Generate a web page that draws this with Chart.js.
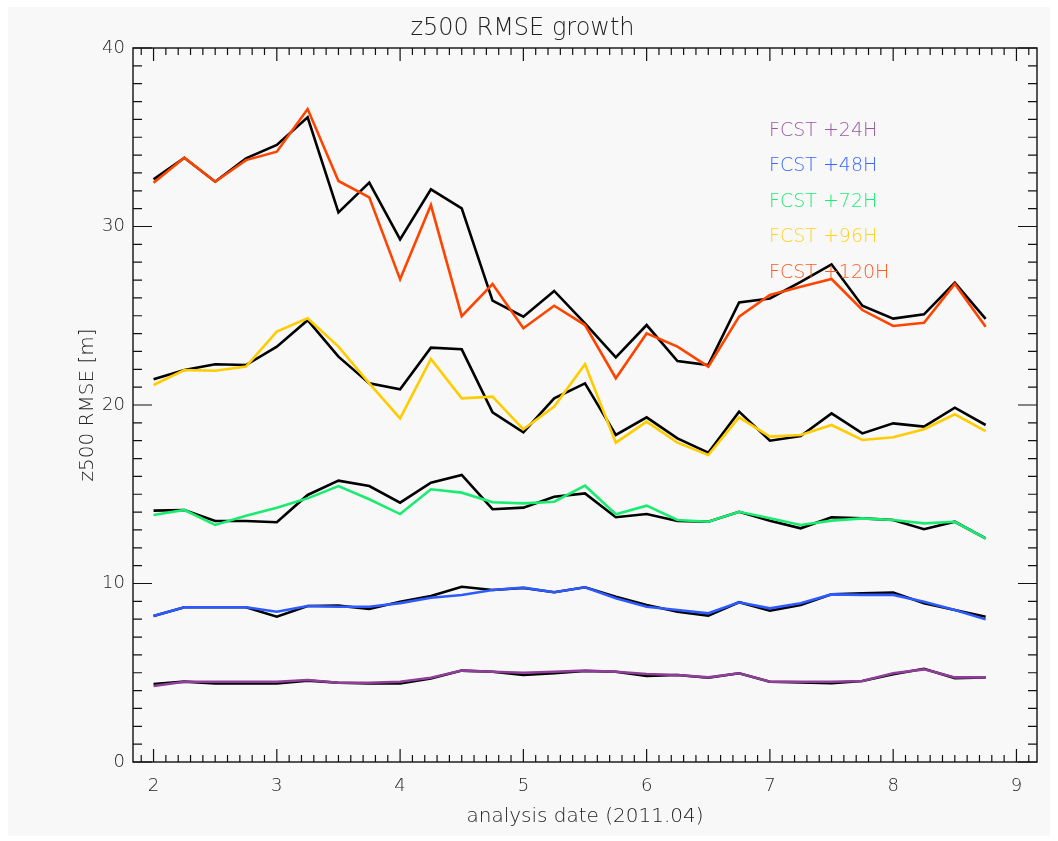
<!DOCTYPE html>
<html>
<head>
<meta charset="utf-8">
<script src="https://cdn.jsdelivr.net/npm/chart.js@4/dist/chart.umd.min.js"></script>
<style>
  html, body { margin: 0; padding: 0; background: #ffffff; }
  #wrap { position: absolute; left: 8px; top: 7px; width: 1042px; height: 829px; }
</style>
</head>
<body>
<div id="wrap"><canvas id="c"></canvas></div>
<script>
const dates = [2.00,2.25,2.50,2.75,3.00,3.25,3.50,3.75,4.00,4.25,4.50,4.75,5.00,5.25,5.50,5.75,6.00,6.25,6.50,6.75,7.00,7.25,7.50,7.75,8.00,8.25,8.50,8.75];

const fcst24 = [4.26,4.50,4.50,4.50,4.50,4.59,4.44,4.44,4.50,4.72,5.12,5.06,5.00,5.06,5.12,5.06,4.93,4.87,4.74,4.97,4.50,4.50,4.50,4.54,4.97,5.19,4.74,4.74];
const ctrl24 = [4.37,4.50,4.40,4.40,4.40,4.56,4.44,4.40,4.40,4.68,5.12,5.06,4.87,4.97,5.10,5.06,4.82,4.87,4.72,4.97,4.50,4.46,4.42,4.54,4.92,5.22,4.70,4.74];

const fcst48 = [8.18,8.67,8.67,8.67,8.42,8.74,8.70,8.70,8.90,9.20,9.36,9.64,9.77,9.51,9.79,9.17,8.70,8.52,8.33,8.95,8.61,8.89,9.39,9.36,9.36,8.98,8.52,7.99];
const ctrl48 = [8.18,8.67,8.67,8.67,8.14,8.74,8.76,8.57,8.98,9.30,9.82,9.64,9.75,9.51,9.79,9.26,8.80,8.42,8.20,8.95,8.48,8.80,9.39,9.45,9.49,8.89,8.52,8.14];

const fcst72 = [13.84,14.12,13.28,13.80,14.25,14.77,15.46,14.72,13.89,15.28,15.09,14.55,14.49,14.58,15.48,13.88,14.36,13.56,13.46,14.02,13.65,13.28,13.52,13.65,13.56,13.37,13.46,12.53];
const ctrl72 = [14.08,14.12,13.50,13.50,13.43,14.96,15.76,15.46,14.53,15.65,16.08,14.16,14.25,14.86,15.05,13.71,13.89,13.50,13.46,14.02,13.52,13.09,13.71,13.65,13.56,13.04,13.46,12.53];

const fcst96 = [21.12,21.96,21.92,22.15,24.11,24.86,23.27,21.21,19.25,22.58,20.37,20.47,18.64,19.91,22.28,17.89,19.07,17.89,17.20,19.31,18.23,18.32,18.88,18.04,18.19,18.64,19.48,18.54];
const ctrl96 = [21.44,21.96,22.28,22.24,23.27,24.75,22.71,21.21,20.88,23.21,23.12,19.59,18.47,20.37,21.21,18.32,19.31,18.13,17.33,19.63,18.00,18.26,19.53,18.41,18.97,18.79,19.85,18.88];

const fcst120 = [32.45,33.85,32.51,33.72,34.19,36.58,32.55,31.63,27.04,31.20,24.98,26.78,24.30,25.56,24.48,21.50,24.01,23.27,22.15,24.95,26.16,26.63,27.06,25.32,24.43,24.61,26.78,24.39];
const ctrl120 = [32.64,33.85,32.51,33.82,34.57,36.12,30.79,32.46,29.28,32.08,31.02,25.85,24.95,26.39,24.57,22.67,24.48,22.46,22.24,25.75,25.97,26.90,27.88,25.56,24.84,25.08,26.85,24.82];

const legendLabels = ['FCST +24H','FCST +48H','FCST +72H','FCST +96H','FCST +120H'];
const xTicks = [2,3,4,5,6,7,8,9];
const yTicks = [0,10,20,30,40];

const lineColors = ['#8f3f99','#2d5bff','#19ec70','#ffcc00','#ff4400'];
const textColors = ['#9a5aa6','#3a66ff','#1aee72','#ffd21a','#ff5a1e'];

const fcstSeries = [fcst24, fcst48, fcst72, fcst96, fcst120];
const ctrlSeries = [ctrl24, ctrl48, ctrl72, ctrl96, ctrl120];

const datasets = [];
for (let k = 0; k < 5; k++) {
  datasets.push({
    label: 'ctrl' + k,
    data: dates.map((d, i) => ({x: d, y: ctrlSeries[k][i]})),
    borderColor: '#000000', borderWidth: 2.6, pointRadius: 0, tension: 0, order: 2, fill: false
  });
  datasets.push({
    label: legendLabels[k],
    data: dates.map((d, i) => ({x: d, y: fcstSeries[k][i]})),
    borderColor: lineColors[k], borderWidth: 2.6, pointRadius: 0, tension: 0, order: 1, fill: false
  });
}

const FONT = 'DejaVu Sans';
const W = 300;

const bgPlugin = {
  id: 'bg',
  beforeDraw(chart) {
    const ctx = chart.ctx;
    ctx.save();
    ctx.fillStyle = '#f8f8f8';
    ctx.fillRect(0, 0, chart.width, chart.height);
    ctx.restore();
  }
};

const framePlugin = {
  id: 'frame',
  afterDraw(chart) {
    const ctx = chart.ctx;
    const a = chart.chartArea;
    const xs = chart.scales.x, ys = chart.scales.y;
    ctx.save();
    ctx.strokeStyle = '#111111';
    ctx.lineWidth = 1.4;
    ctx.strokeRect(a.left, a.top, a.right - a.left, a.bottom - a.top);
    ctx.lineWidth = 1.2;
    ctx.beginPath();
    for (let t = Math.ceil(xs.min * 10); t <= Math.floor(xs.max * 10); t++) {
      const v = t / 10;
      const px = xs.getPixelForValue(v);
      const len = (t % 10 === 0) ? 13 : 7;
      ctx.moveTo(px, a.bottom); ctx.lineTo(px, a.bottom - len);
      ctx.moveTo(px, a.top); ctx.lineTo(px, a.top + len);
    }
    for (let v = ys.min; v <= ys.max; v++) {
      const py = ys.getPixelForValue(v);
      const len = (v % 10 === 0) ? 19 : 9;
      ctx.moveTo(a.left, py); ctx.lineTo(a.left + len, py);
      ctx.moveTo(a.right, py); ctx.lineTo(a.right - len, py);
    }
    ctx.stroke();

    ctx.font = W + ' 19px "' + FONT + '"';
    ctx.textBaseline = 'middle';
    ctx.textAlign = 'left';
    for (let k = 0; k < legendLabels.length; k++) {
      ctx.fillStyle = textColors[k];
      ctx.fillText(legendLabels[k], 761, 124 + k * 35.5);
    }
    ctx.restore();
  }
};

new Chart(document.getElementById('c'), {
  type: 'line',
  data: { datasets },
  options: {
    responsive: true,
    maintainAspectRatio: false,
    animation: false,
    devicePixelRatio: 1,
    layout: { padding: { left: 0, right: 13, top: 0, bottom: 0 } },
    plugins: {
      legend: { display: false },
      tooltip: { enabled: false },
      title: {
        display: true,
        text: 'z500 RMSE growth',
        color: '#222222',
        font: { family: FONT, size: 24, weight: W },
        padding: { top: 7, bottom: 5.2 }
      }
    },
    scales: {
      x: {
        type: 'linear',
        min: 1.8333, max: 9.1667,
        afterBuildTicks: (s) => { s.ticks = xTicks.map(v => ({value: v})); },
        afterFit: (s) => { s.height = 74; },
        grid: { display: false, drawTicks: false },
        border: { display: false },
        ticks: {
          autoSkip: false, maxRotation: 0, padding: 14,
          color: '#222222',
          font: { family: FONT, size: 18, weight: W },
          callback: (v) => String(v)
        },
        title: {
          display: true,
          text: 'analysis date (2011.04)',
          color: '#222222',
          font: { family: FONT, size: 20, weight: W },
          padding: { top: 0, bottom: 7 }
        }
      },
      y: {
        type: 'linear',
        min: 0, max: 40,
        afterBuildTicks: (s) => { s.ticks = yTicks.map(v => ({value: v})); },
        afterFit: (s) => { s.width = 125; },
        grid: { display: false, drawTicks: false },
        border: { display: false },
        ticks: {
          autoSkip: false, padding: 8,
          color: '#222222',
          font: { family: FONT, size: 18, weight: W },
          callback: (v) => String(v)
        },
        title: {
          display: true,
          text: 'z500 RMSE [m]',
          color: '#222222',
          font: { family: FONT, size: 20, weight: W },
          padding: { top: 68, bottom: 0 }
        }
      }
    }
  },
  plugins: [bgPlugin, framePlugin]
});
</script>
</body>
</html>
